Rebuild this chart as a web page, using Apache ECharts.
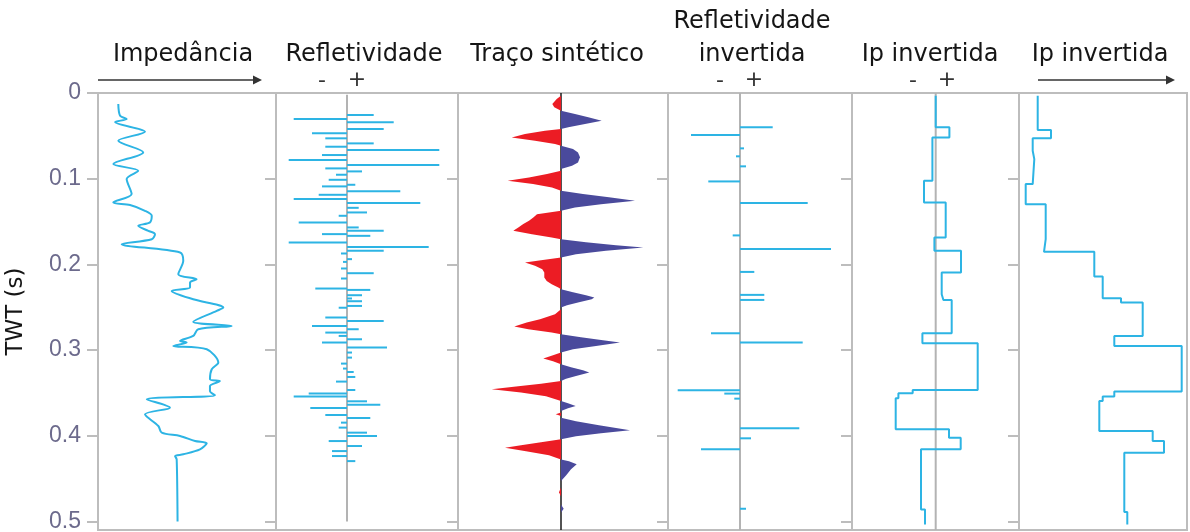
<!DOCTYPE html>
<html><head><meta charset="utf-8">
<script src="https://cdn.jsdelivr.net/npm/echarts@6/dist/echarts.min.js"></script>
<style>html,body{margin:0;padding:0;background:#fff}#c{width:1190px;height:532px}</style>
</head><body><div id="c"></div>
<script>
// ---- Data (TWT in seconds) ----
const twtMin = 0, twtMax = 0.51, twtStep = 0.1;

// Panel 1: Impedância (relative units)
const impT = [0.0129,0.0265,0.0304,0.0339,0.0452,0.0557,0.0693,0.0829,0.0908,0.1005,0.1180,0.1277,0.1308,0.1375,0.1433,0.1510,0.1550,0.1609,0.1647,0.1706,0.1764,0.1861,0.1959,0.2114,0.2173,0.2212,0.2270,0.2310,0.2407,0.2504,0.2543,0.2671,0.2718,0.2757,0.2835,0.2894,0.2912,0.2952,0.2991,0.3146,0.3224,0.3341,0.3361,0.3419,0.3478,0.3528,0.3575,0.3672,0.3750,0.3886,0.3964,0.4003,0.4062,0.4089,0.4159,0.4217,0.4237,0.4276,0.5000];
const impV = [11.4,12.4,16.1,9.6,26.4,11.4,25.4,8.6,22.6,16.1,18.9,8.6,18.0,26.4,30.2,29.2,22.6,28.3,32.0,30.2,13.3,46.1,47.9,45.1,55.4,51.7,51.7,41.4,53.5,70.4,66.7,53.5,75.1,56.3,53.5,46.1,49.8,42.3,61.1,67.6,63.9,62.9,68.5,62.9,62.9,65.7,27.4,40.4,26.4,33.9,35.8,46.1,54.5,61.1,57.3,47.9,43.3,44.2,44.7];

// Panel 2: Refletividade
const reflT = [0.0257,0.0304,0.0342,0.0421,0.0471,0.0529,0.0588,0.0627,0.0666,0.0724,0.0783,0.0841,0.0880,0.0915,0.0954,0.1013,0.1071,0.1090,0.1148,0.1188,0.1238,0.1285,0.1340,0.1394,0.1433,0.1511,0.1569,0.1609,0.1647,0.1667,0.1744,0.1796,0.1842,0.1873,0.1939,0.1971,0.2048,0.2103,0.2165,0.2282,0.2298,0.2360,0.2398,0.2430,0.2485,0.2506,0.2620,0.2660,0.2718,0.2757,0.2796,0.2835,0.2874,0.2912,0.2971,0.3029,0.3088,0.3158,0.3216,0.3256,0.3314,0.3368,0.3466,0.3508,0.3543,0.3598,0.3637,0.3676,0.3758,0.3793,0.3847,0.3905,0.3964,0.4003,0.4062,0.4120,0.4179,0.4237,0.4296];
const reflV = [26.7,-53.3,46.7,36.7,-35,-21.7,26.7,-21.7,92.3,-25,-58.3,92.3,-21.7,15,-11,-18.3,8.3,-25,53.3,-28.3,-53.3,73.3,11.7,20,-8.3,-48.3,11.7,36.7,-25,23.3,-58.3,81.7,36.7,-6,5,-4,-6,26.7,-6,-31.7,23.3,15,5,15,15,-8.3,-21.7,36.7,-35,11.7,-21.7,-8.3,15,-25,40,5,5,-6,-4,6.7,8.3,-11,8.3,-38.3,-53.3,20,33.3,-36.7,-21.7,23.3,-6,-8.3,20,30,-18.3,15,-15,-15,8.3];

// Panel 3: Traço sintético (amplitude)
const traceT = [0,0.0032,0.0070,0.0129,0.0167,0.0207,0.0245,0.0284,0.0324,0.0362,0.0401,0.0421,0.0440,0.0479,0.0518,0.0557,0.0596,0.0616,0.0654,0.0693,0.0751,0.0810,0.0849,0.0888,0.0908,0.0946,0.0985,0.1025,0.1063,0.1102,0.1141,0.1180,0.1218,0.1258,0.1297,0.1335,0.1375,0.1414,0.1452,0.1492,0.1530,0.1569,0.1609,0.1647,0.1686,0.1706,0.1741,0.1776,0.1803,0.1842,0.1881,0.1919,0.1951,0.1978,0.2017,0.2056,0.2095,0.2153,0.2193,0.2231,0.2270,0.2290,0.2325,0.2360,0.2387,0.2406,0.2442,0.2477,0.2503,0.2523,0.2582,0.2640,0.2679,0.2725,0.2757,0.2796,0.2815,0.2850,0.2885,0.2912,0.2952,0.2991,0.3029,0.3061,0.3099,0.3131,0.3166,0.3201,0.3236,0.3263,0.3302,0.3335,0.3361,0.3394,0.3426,0.3458,0.3496,0.3540,0.3595,0.3621,0.3653,0.3680,0.3711,0.3730,0.3750,0.3770,0.3789,0.3832,0.3878,0.3937,0.3972,0.4007,0.4042,0.4077,0.4112,0.4139,0.4182,0.4229,0.4276,0.4299,0.4334,0.4392,0.4463,0.4529,0.4603,0.4658,0.4708,0.4801,0.4852,0.4895,0.5093];
const traceA = [0,0,-4.3,-8.7,-6.7,0,14,27.3,40.7,24,7.3,0,-16,-36,-49.3,-26,-6,0,12,17,19,17,11,0,0,-14,-32,-53.3,-28,-9,0,22,48,74,40,14,0,-24,-27.7,-32,-37.7,-42.7,-47.7,-29,-9.3,0,25,55,82.3,45,15,0,-20,-36,-26,-18.7,-16.7,-16.7,-14.3,-9.3,-2.7,0,12,25,33.3,30.7,18,6,0,0,-6,-21,-34.3,-46.7,-32.7,-9.3,0,20,42,59,35,12,0,-8,-17.7,-8,0,10,22,28.3,15,5,0,-20,-45,-69.3,-40,-15,0,7,14.7,7,0,0,-5.3,0,0,15,38,69,40,15,0,-20,-40,-56,-35,-12,0,8,15.7,10,5,0,0,-2,0,0,2.7,0,0];

// Panel 4: Refletividade invertida
const invT = [0.0401,0.0491,0.0646,0.0739,0.0856,0.1032,0.1285,0.1662,0.1822,0.2088,0.2356,0.2415,0.2804,0.2912,0.3470,0.3508,0.3567,0.3913,0.4030,0.4159,0.4852];
const invV = [32.7,-49,4,-4,6,-31.7,67.7,-7.3,91,14.3,24.3,24.3,-29,62.7,-62.3,-15.7,-5.7,59.3,11,-39,6];

// Panel 5: Ip invertida (relativa) - layer tops (last = base) and values
const ipRelTop = [0.0032,0.0400,0.0518,0.1025,0.1277,0.1686,0.1842,0.2095,0.2348,0.2415,0.2804,0.2921,0.3466,0.3505,0.3563,0.3925,0.4022,0.4159,0.4860,0.5035];
const ipRelV = [0,13.7,-3.3,-11.7,10,-1.3,25.3,6,7.7,16,-13.3,42,-23,-37.3,-40,13.3,25,-14.7,-10.7];

// Panel 6: Ip invertida (absoluta)
const ipAbsTop = [0.0032,0.0432,0.0529,0.0674,0.0771,0.1063,0.1297,0.1706,0.1854,0.2141,0.2395,0.2445,0.2835,0.2952,0.3485,0.3543,0.3595,0.3945,0.4062,0.4197,0.4891,0.5035];
const ipAbsV = [18.7,32,13.7,15.3,13.7,6.7,26.7,25,75.3,83.7,102,123.7,95.3,162.7,95.3,83.7,80.3,133.7,145,105.3,108.3];

// ---- Helpers ----
const pairs = (xs, ts) => ts.map((t, i) => [xs[i], t]);
function steps(tops, vals) {
  const out = [];
  for (let i = 0; i < vals.length; i++) { out.push([vals[i], tops[i]]); out.push([vals[i], tops[i + 1]]); }
  return out;
}
const BLUE = '#2db4e4', GRID = '#bdbdbd', RED_F = '#ec1c24', BLUE_F = '#4a4a9c';
const TXT = '#151515';
const FONT = '"DejaVu Sans", sans-serif';

function barItem(params, api) {
  const v = api.value(0), t = api.value(1);
  const p0 = api.coord([0, t]), p1 = api.coord([v, t]);
  return { type: 'line', shape: { x1: p0[0], y1: p0[1], x2: p1[0], y2: p1[1] },
    style: { stroke: BLUE, lineWidth: 2 } };
}
function lobeItem(params, api) {
  const i = params.dataIndex, n = traceT.length;
  if (traceA[i] !== 0 || i + 1 >= n || traceA[i + 1] === 0) return null;
  const pts = [api.coord([0, traceT[i]])];
  for (let j = i + 1; j < n; j++) {
    pts.push(api.coord([traceA[j], traceT[j]]));
    if (traceA[j] === 0) break;
  }
  return { type: 'polygon', shape: { points: pts },
    style: { fill: traceA[i + 1] > 0 ? BLUE_F : RED_F } };
}

// ---- Layout ----
const panels = [
  { left: 98, width: 178, min: 0, max: 100 },
  { left: 276, width: 182, min: -71, max: 111 },
  { left: 458, width: 210, min: -103, max: 107 },
  { left: 668, width: 184, min: -72, max: 112 },
  { left: 852, width: 167, min: -83.7, max: 83.3 },
  { left: 1019, width: 168, min: 0, max: 168 }
];
const TOP = 93, HEIGHT = 437;

const grids = panels.map(p => ({ left: p.left, top: TOP, width: p.width, height: HEIGHT,
  outerBoundsMode: 'none', containLabel: false,
  show: true, borderColor: GRID, borderWidth: 2, backgroundColor: 'transparent' }));
const xAxes = panels.map((p, i) => ({ gridIndex: i, type: 'value', min: p.min, max: p.max, show: false }));
const yAxes = panels.map((p, i) => ({
  gridIndex: i, type: 'value', inverse: true, min: twtMin, max: twtMax, interval: twtStep,
  position: 'left', axisLine: { show: false, onZero: false }, splitLine: { show: false },
  axisTick: { show: true, inside: false, length: 11, lineStyle: { color: GRID, width: 2 } },
  axisLabel: { show: i === 0, showMaxLabel: false, margin: 17, color: '#6c6a8c', fontSize: 23,
    fontFamily: '"Liberation Sans Narrow", "Liberation Sans", sans-serif' },
  name: i === 0 ? 'TWT (s)' : '', nameLocation: 'middle', nameGap: 70,
  nameTextStyle: { fontSize: 23, fontFamily: FONT, color: TXT }
}));

const centerLine = (gi, t0, t1, color, w) => ({
  type: 'line', xAxisIndex: gi, yAxisIndex: gi, data: [[0, t0], [0, t1]], symbol: 'none',
  silent: true, z: 1, lineStyle: { color: color, width: w }
});

const series = [
  { type: 'line', xAxisIndex: 0, yAxisIndex: 0, data: pairs(impV, impT), smooth: 0.3,
    symbol: 'none', lineStyle: { color: BLUE, width: 2 }, z: 3 },
  centerLine(1, 0.002, 0.5, '#b3b3b3', 2),
  { type: 'custom', xAxisIndex: 1, yAxisIndex: 1, data: pairs(reflV, reflT), renderItem: barItem,
    encode: { x: 0, y: 1 }, z: 3 },
  { type: 'custom', xAxisIndex: 2, yAxisIndex: 2, data: pairs(traceA, traceT), renderItem: lobeItem,
    encode: { x: 0, y: 1 }, z: 2 },
  centerLine(2, 0, twtMax, '#1a1a1a', 1.5),
  centerLine(3, 0, twtMax, '#b3b3b3', 2),
  { type: 'custom', xAxisIndex: 3, yAxisIndex: 3, data: pairs(invV, invT), renderItem: barItem,
    encode: { x: 0, y: 1 }, z: 3 },
  centerLine(4, 0, twtMax, '#b3b3b3', 2),
  { type: 'line', xAxisIndex: 4, yAxisIndex: 4, data: steps(ipRelTop, ipRelV), symbol: 'none',
    lineStyle: { color: BLUE, width: 2 }, z: 3 },
  { type: 'line', xAxisIndex: 5, yAxisIndex: 5, data: steps(ipAbsTop, ipAbsV), symbol: 'none',
    lineStyle: { color: BLUE, width: 2 }, z: 3 }
];

const title = (text, x, y) => ({ type: 'text', x: x, y: y,
  style: { text: text, fontSize: 24, fontFamily: FONT, fill: TXT, align: 'center', verticalAlign: 'middle' } });
const sign = (text, x, y) => ({ type: 'text', x: x, y: y,
  style: { text: text, fontSize: 22, fontFamily: FONT, fill: '#333', align: 'center', verticalAlign: 'middle' } });
const arrow = (x1, x2, y) => [
  { type: 'line', shape: { x1: x1, y1: y, x2: x2 - 6, y2: y }, style: { stroke: '#333', lineWidth: 1.6 } },
  { type: 'polygon', shape: { points: [[x2 - 9, y - 4.5], [x2, y], [x2 - 9, y + 4.5]] }, style: { fill: '#333' } }
];

const graphic = [
  title('Impedância', 183, 55),
  title('Refletividade', 364, 55),
  title('Traço sintético', 557, 55),
  title('Refletividade', 752, 22),
  title('invertida', 752, 55),
  title('Ip invertida', 930, 55),
  title('Ip invertida', 1100, 55),
  sign('-', 322, 81), sign('+', 357, 80),
  sign('-', 720, 81), sign('+', 754, 80),
  sign('-', 913, 81), sign('+', 947, 80),
  ...arrow(98, 262, 80),
  ...arrow(1038, 1175, 80)
];

const chart = echarts.init(document.getElementById('c'), null, { renderer: 'canvas' });
chart.setOption({
  animation: false,
  backgroundColor: '#fff',
  grid: grids, xAxis: xAxes, yAxis: yAxes, series: series, graphic: graphic
});
</script></body></html>
